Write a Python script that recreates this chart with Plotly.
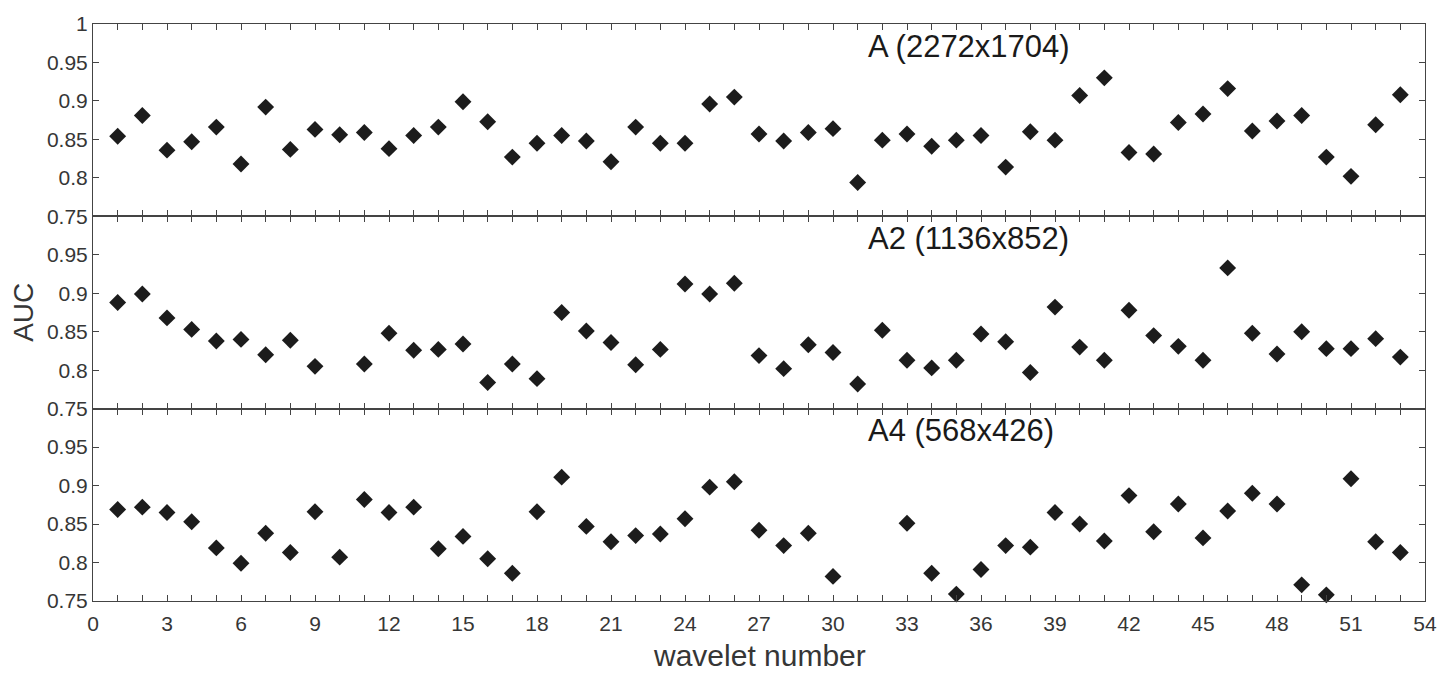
import plotly.graph_objects as go

wavelets = list(range(1, 54))

auc_A = [0.854, 0.881, 0.836, 0.847, 0.866, 0.818, 0.892, 0.837, 0.863, 0.856,
         0.859, 0.838, 0.855, 0.866, 0.899, 0.873, 0.827, 0.845, 0.855, 0.848,
         0.821, 0.866, 0.845, 0.845, 0.896, 0.905, 0.857, 0.848, 0.859, 0.864,
         0.794, 0.849, 0.857, 0.841, 0.849, 0.855, 0.814, 0.860, 0.849, 0.907,
         0.930, 0.833, 0.831, 0.872, 0.883, 0.916, 0.861, 0.874, 0.881, 0.827,
         0.802, 0.869, 0.908]

auc_A2 = [0.888, 0.899, 0.868, 0.853, 0.838, 0.840, 0.820, 0.839, 0.805, None,
          0.808, 0.848, 0.826, 0.827, 0.834, 0.784, 0.808, 0.789, 0.875, 0.851,
          0.836, 0.807, 0.827, 0.912, 0.899, 0.913, 0.819, 0.802, 0.833, 0.823,
          0.782, 0.852, 0.813, 0.803, 0.813, 0.847, 0.837, 0.797, 0.882, 0.830,
          0.813, 0.878, 0.845, 0.831, 0.813, 0.933, 0.848, 0.821, 0.850, 0.828,
          0.828, 0.841, 0.817]

auc_A4 = [0.869, 0.872, 0.865, 0.853, 0.819, 0.799, 0.838, 0.813, 0.866, 0.807,
          0.882, 0.865, 0.872, 0.818, 0.834, 0.805, 0.786, 0.866, 0.911, 0.847,
          0.827, 0.835, 0.837, 0.857, 0.898, 0.905, 0.842, 0.822, 0.838, 0.782,
          None, None, 0.851, 0.786, 0.759, 0.791, 0.822, 0.820, 0.865, 0.850,
          0.828, 0.887, 0.840, 0.876, 0.832, 0.867, 0.890, 0.876, 0.771, 0.758,
          0.909, 0.827, 0.813]

panel_labels = ["A (2272x1704)", "A2 (1136x852)", "A4 (568x426)"]
series = [auc_A, auc_A2, auc_A4]
x_ticks = list(range(0, 55, 3))

fig = go.Figure()
font_fam = "Liberation Sans, Arial, Helvetica, sans-serif"
axis_col = "#444444"
txt_col = "#363636"
domains = [[2/3, 1.0], [1/3, 2/3], [0.0, 1/3]]

for i, (vals, lab) in enumerate(zip(series, panel_labels)):
    n = i + 1
    sx = "" if n == 1 else str(n)
    fig.add_trace(go.Scatter(
        x=wavelets, y=vals, mode="markers",
        marker=dict(symbol="diamond", size=13, color="#1c1c1c"),
        xaxis="x" + sx, yaxis="y" + sx, showlegend=False, cliponaxis=False))
    yticks = [0.75, 0.8, 0.85, 0.9, 0.95, 1.0] if n == 1 else [0.75, 0.8, 0.85, 0.9, 0.95]
    ytext = ["0.75", "0.8", "0.85", "0.9", "0.95", "1"][:len(yticks)]
    fig.layout["xaxis" + sx] = dict(
        domain=[0, 1], range=[0, 54], anchor="y" + sx,
        tickvals=x_ticks, ticktext=[str(v) for v in x_ticks],
        showticklabels=(n == 3), ticks="inside", ticklen=6, tickcolor=axis_col,
        ticklabelstandoff=4,
        minor=dict(dtick=1, tick0=0, ticks="inside", ticklen=6, tickcolor=axis_col),
        showline=True, linecolor=axis_col, linewidth=1, mirror="ticks",
        showgrid=False, zeroline=False,
        tickfont=dict(family=font_fam, size=21, color=txt_col))
    fig.layout["yaxis" + sx] = dict(
        domain=domains[i], range=[0.75, 1.0], anchor="x" + sx,
        tickvals=yticks, ticktext=ytext, ticks="inside", ticklen=6,
        tickcolor=axis_col,
        showline=True, linecolor=axis_col, linewidth=1, mirror="ticks",
        showgrid=False, zeroline=False,
        tickfont=dict(family=font_fam, size=21, color=txt_col))
    fig.add_annotation(x=31.35, y=0.971, xref="x" + sx, yref="y" + sx,
                       text=lab, showarrow=False, xanchor="left",
                       yanchor="middle",
                       font=dict(family=font_fam, size=31, color="#1a1a1a"))

fig.add_annotation(x=-0.0523, y=0.5, xref="paper", yref="paper", text="AUC",
                   textangle=-90, showarrow=False, xanchor="center",
                   yanchor="middle",
                   font=dict(family=font_fam, size=28, color=txt_col))
fig.add_annotation(x=0.5, y=-0.095, xref="paper", yref="paper",
                   text="wavelet number", showarrow=False, xanchor="center",
                   yanchor="middle",
                   font=dict(family=font_fam, size=30, color=txt_col))

fig.update_layout(width=1455, height=674,
                  margin=dict(l=93, r=30, t=14, b=73),
                  plot_bgcolor="white", paper_bgcolor="white")

fig.write_html("out.html", config={"displayModeBar": False},
               post_script="document.body.style.margin='0';document.body.style.overflow='hidden';")
